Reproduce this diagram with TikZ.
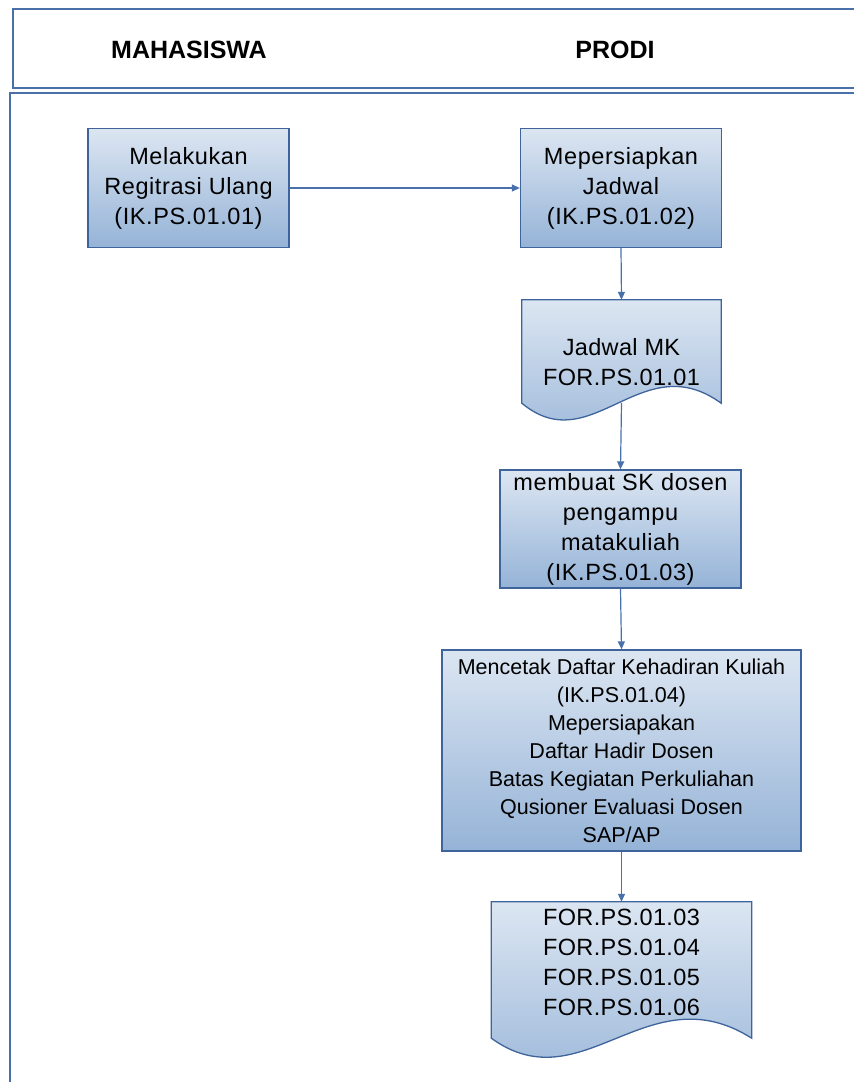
\documentclass[tikz,border=0pt]{standalone}
\usepackage{fontspec}
\setmainfont{Liberation Sans}
\usetikzlibrary{arrows.meta, calc, backgrounds}

\definecolor{laneblue}{RGB}{74,112,170}
\definecolor{boxedge}{RGB}{62,100,155}
\definecolor{boxtop}{RGB}{220,230,242}
\definecolor{boxbottom}{RGB}{149,179,215}
\definecolor{flowblue}{RGB}{72,112,170}

\tikzset{
  lane/.style={draw=laneblue, line width=1.5pt},
  lanetitle/.style={font=\fontsize{25}{30}\selectfont\bfseries},
  procbox/.style={draw=boxedge, line width=1.3pt, top color=boxtop, bottom color=boxbottom,
    align=center, inner sep=0pt, font=\fontsize{23.5}{30}\selectfont\addfontfeatures{LetterSpace=2.5}},
  docbox/.style={align=center, inner sep=0pt, font=\fontsize{23.5}{30}\selectfont\addfontfeatures{LetterSpace=1.5}},
  docfill/.style={draw=boxedge, line width=1.3pt, top color=boxtop, bottom color=boxbottom},
  flow/.style={draw=flowblue, line width=1.2pt, -{Triangle[length=8pt,width=7pt]}}
}

% document outline with a wavy bottom, drawn round a node
\newcommand{\docoutline}[2]{%
  \path[docfill] (#1.north west) -- (#1.north east) -- (#1.south east)
    .. controls ($(#1.south east)!0.4!(#1.south west)+(0,-#2)$)
    and ($(#1.south east)!0.65!(#1.south west)+(0,#2)$) .. (#1.south west) -- cycle;}

\begin{document}
\begin{tikzpicture}[x=1pt, y=-1pt]
  \useasboundingbox (0,0) rectangle (854,1082);
  \clip (0,0) rectangle (854,1082);

  % swimlanes
  \draw[lane] (13,9) rectangle (870,88);
  \draw[lane] (10,93) rectangle (870,1100);
  \node[lanetitle] (mhs) at (189,50) {MAHASISWA};
  \node[lanetitle] (prodi) at (615,50) {PRODI};

  % steps
  \node[procbox, minimum width=201, minimum height=119] (regis) at (188.5,188)
    {Melakukan\\Regitrasi Ulang\\(IK.PS.01.01)};
  \node[procbox, minimum width=201, minimum height=119] (jadwal) at (621,188)
    {Mepersiapkan\\Jadwal\\(IK.PS.01.02)};
  \node[docbox, minimum width=199, minimum height=103] (jadwalmk) at (621.5,351.5)
    {\rule{0pt}{38pt}Jadwal MK\\FOR.PS.01.01};
  \node[procbox, minimum width=241, minimum height=118] (sk) at (620.5,529)
    {membuat SK dosen\\pengampu\\matakuliah\\(IK.PS.01.03)};
  \node[procbox, minimum width=359, minimum height=201,
    font=\fontsize{21.5}{28}\selectfont] (cetak) at (621.5,750.5)
    {Mencetak Daftar Kehadiran Kuliah\\(IK.PS.01.04)\\Mepersiapakan\\Daftar Hadir Dosen\\
     Batas Kegiatan Perkuliahan\\Qusioner Evaluasi Dosen\\SAP/AP};
  \node[docbox, minimum width=260, minimum height=136] (forms) at (621.5,970)
    {FOR.PS.01.03\\FOR.PS.01.04\\FOR.PS.01.05\\FOR.PS.01.06\rule[-16pt]{0pt}{16pt}};

  \begin{pgfonlayer}{background}
    \docoutline{jadwalmk}{58}
    \docoutline{forms}{66}
  \end{pgfonlayer}

  % flow
  \draw[flow] (regis.east) -- (jadwal.west);
  \draw[flow] (jadwal.south) -- (jadwalmk.north);
  \draw[flow] (jadwalmk.south) -- (sk.north);
  \draw[flow] (sk.south) -- (cetak.north);
  \draw[flow] (cetak.south) -- (forms.north);
\end{tikzpicture}
\end{document}
